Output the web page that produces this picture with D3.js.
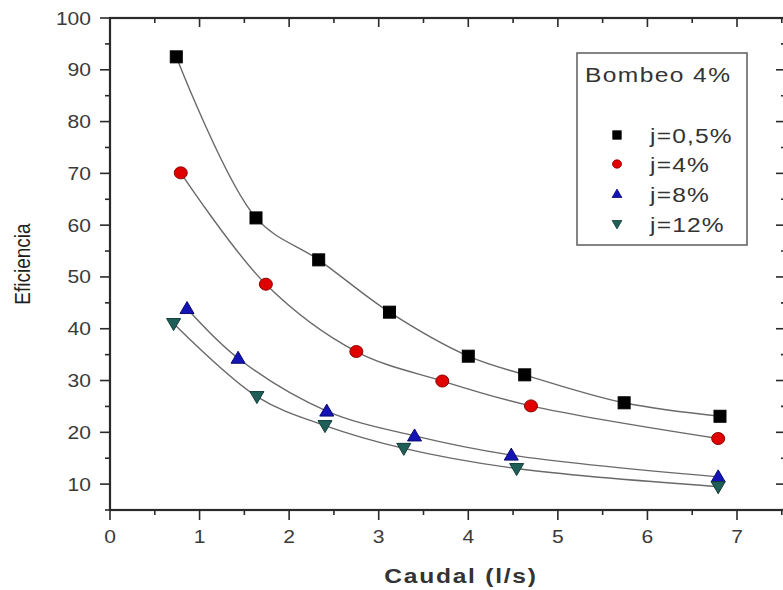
<!DOCTYPE html>
<html lang="es">
<head>
<meta charset="utf-8">
<title>Eficiencia vs Caudal</title>
<script src="https://cdn.jsdelivr.net/npm/d3@7"></script>
<style>
  body { margin: 0; background: #fff; }
  text { font-family: "Liberation Sans", Arial, sans-serif; }
</style>
</head>
<body>
<script>
// data
var seriesNames = ["j=0,5%", "j=4%", "j=8%", "j=12%"];
var caudal05 = [0.74, 1.63, 2.33, 3.12, 4.00, 4.63, 5.74, 6.81];
var efic05   = [92.5, 61.4, 53.3, 43.2, 34.7, 31.1, 25.7, 23.1];
var caudal4  = [0.79, 1.74, 2.75, 3.71, 4.70, 6.79];
var efic4    = [70.1, 48.6, 35.6, 29.9, 25.1, 18.8];
var caudal8  = [0.86, 1.43, 2.42, 3.40, 4.48, 6.79];
var efic8    = [43.9, 34.3, 24.1, 19.3, 15.6, 11.4];
var caudal12 = [0.71, 1.64, 2.40, 3.28, 4.54, 6.79];
var efic12   = [41.0, 26.9, 21.3, 16.9, 13.0, 9.5];
var xTicks = [0, 1, 2, 3, 4, 5, 6, 7];
var yTicks = [10, 20, 30, 40, 50, 60, 70, 80, 90, 100];

var W = 783, H = 590;
var padL = 110, padT = 18, padB = 510, frameR = 786;
var stretch = 1.17; // the picture's text is a bit wide

var svg = d3.select("body").append("svg")
  .attr("width", W).attr("height", H);

var x = d3.scaleLinear().domain([0, 7]).range([padL, 737]);
var y = d3.scaleLinear().domain([5, 100]).range([padB, padT]);

var series = [
  {name: seriesNames[0], xs: caudal05, ys: efic05, shape: "square", fill: "#000", stroke: "#000"},
  {name: seriesNames[1], xs: caudal4, ys: efic4, shape: "circle", fill: "#e00000", stroke: "#8a0000"},
  {name: seriesNames[2], xs: caudal8, ys: efic8, shape: "up", fill: "#1414b4", stroke: "#0a0a70"},
  {name: seriesNames[3], xs: caudal12, ys: efic12, shape: "down", fill: "#1f5f58", stroke: "#123c38"}
];

var axisColor = "#2a2a2a";

function at(px, py) {
  return "translate(" + px + "," + py + ") scale(" + stretch + ",1)";
}

// frame and ticks
var minorX = d3.range(0, 7.51, 0.5);
var minorY = d3.range(5, 100.1, 5);

var g = svg.append("g");
// top ticks inward
g.selectAll(".tt").data(minorX).enter().append("line")
  .attr("x1", d => x(d)).attr("x2", d => x(d))
  .attr("y1", padT).attr("y2", d => padT + (d % 1 === 0 ? 9 : 5))
  .attr("stroke", axisColor).attr("stroke-width", 1.6);
// bottom ticks outward
g.selectAll(".bt").data(minorX).enter().append("line")
  .attr("x1", d => x(d)).attr("x2", d => x(d))
  .attr("y1", padB).attr("y2", d => padB + (d % 1 === 0 ? 10 : 5))
  .attr("stroke", axisColor).attr("stroke-width", 1.6);
// left ticks outward
g.selectAll(".lt").data(minorY).enter().append("line")
  .attr("y1", d => y(d)).attr("y2", d => y(d))
  .attr("x1", padL).attr("x2", d => padL - (d % 10 === 0 ? 10 : 5))
  .attr("stroke", axisColor).attr("stroke-width", 1.6);
// right ticks inward
g.selectAll(".rt").data(minorY).enter().append("line")
  .attr("y1", d => y(d)).attr("y2", d => y(d))
  .attr("x1", frameR).attr("x2", d => frameR - (d % 10 === 0 ? 10 : 5))
  .attr("stroke", axisColor).attr("stroke-width", 1.6);

g.append("rect")
  .attr("x", padL).attr("y", padT)
  .attr("width", frameR - padL).attr("height", padB - padT)
  .attr("fill", "none").attr("stroke", axisColor).attr("stroke-width", 2.2);

// tick labels
g.selectAll(".xl").data(xTicks).enter().append("text")
  .attr("transform", d => at(x(d), padB + 33))
  .attr("text-anchor", "middle")
  .attr("font-size", 18)
  .attr("fill", "#3a3a3a")
  .text(d => d);
g.selectAll(".yl").data(yTicks).enter().append("text")
  .attr("transform", d => at(padL - 19, y(d) + 6.5))
  .attr("text-anchor", "end")
  .attr("font-size", 18)
  .attr("fill", "#3a3a3a")
  .text(d => d);

// axis titles
svg.append("text")
  .attr("transform", "translate(30," + ((padT + padB) / 2) + ") scale(1.2,1) rotate(-90)")
  .attr("text-anchor", "middle")
  .attr("font-size", 19).attr("fill", "#1e1e1e")
  .text("Eficiencia");
svg.append("text")
  .attr("transform", at(461, 583))
  .attr("text-anchor", "middle")
  .attr("font-size", 21).attr("font-weight", "bold")
  .attr("letter-spacing", 1.5).attr("fill", "#333")
  .text("Caudal (l/s)");

// curves
var line = d3.line()
  .x(d => x(d[0])).y(d => y(d[1]))
  .curve(d3.curveCatmullRom.alpha(0.5));

series.forEach(function(s) {
  var pts = s.xs.map((v, i) => [v, s.ys[i]]);
  svg.append("path").datum(pts)
    .attr("d", line)
    .attr("fill", "none")
    .attr("stroke", "#6a6a6a")
    .attr("stroke-width", 1.4);
});

function marker(sel, shape, k) {
  // k = size factor
  if (shape === "square") {
    return sel.append("rect")
      .attr("x", -6 * k).attr("y", -6 * k)
      .attr("width", 12 * k).attr("height", 12 * k);
  }
  if (shape === "circle") {
    return sel.append("ellipse").attr("rx", 6.5 * k).attr("ry", 6 * k);
  }
  if (shape === "up") {
    return sel.append("path")
      .attr("d", "M0," + (-7 * k) + "L" + (7 * k) + "," + (5 * k) + "L" + (-7 * k) + "," + (5 * k) + "Z");
  }
  return sel.append("path")
    .attr("d", "M0," + (7 * k) + "L" + (7 * k) + "," + (-5 * k) + "L" + (-7 * k) + "," + (-5 * k) + "Z");
}

series.forEach(function(s) {
  var pts = s.xs.map((v, i) => [v, s.ys[i]]);
  svg.selectAll(null).data(pts).enter().append("g")
    .attr("transform", d => "translate(" + x(d[0]) + "," + y(d[1]) + ")")
    .each(function() {
      marker(d3.select(this), s.shape, 1)
        .attr("fill", s.fill).attr("stroke", s.stroke).attr("stroke-width", 1);
    });
});

// legend
var lg = svg.append("g");
lg.append("rect")
  .attr("x", 577).attr("y", 53).attr("width", 170).attr("height", 192)
  .attr("fill", "#fff").attr("stroke", "#666").attr("stroke-width", 1.6);
lg.append("text")
  .attr("transform", at(585, 82))
  .attr("font-size", 21).attr("letter-spacing", 1.2).attr("fill", "#333")
  .text("Bombeo 4%");
var rowY = [135, 164, 194, 224];
series.forEach(function(s, i) {
  var r = lg.append("g").attr("transform", "translate(617," + rowY[i] + ")");
  marker(r, s.shape, 0.7).attr("fill", s.fill).attr("stroke", s.stroke).attr("stroke-width", 0.8);
  r.append("text")
    .attr("transform", at(33, 7.5))
    .attr("font-size", 21).attr("letter-spacing", 1).attr("fill", "#333")
    .text(s.name);
});
</script>
</body>
</html>
